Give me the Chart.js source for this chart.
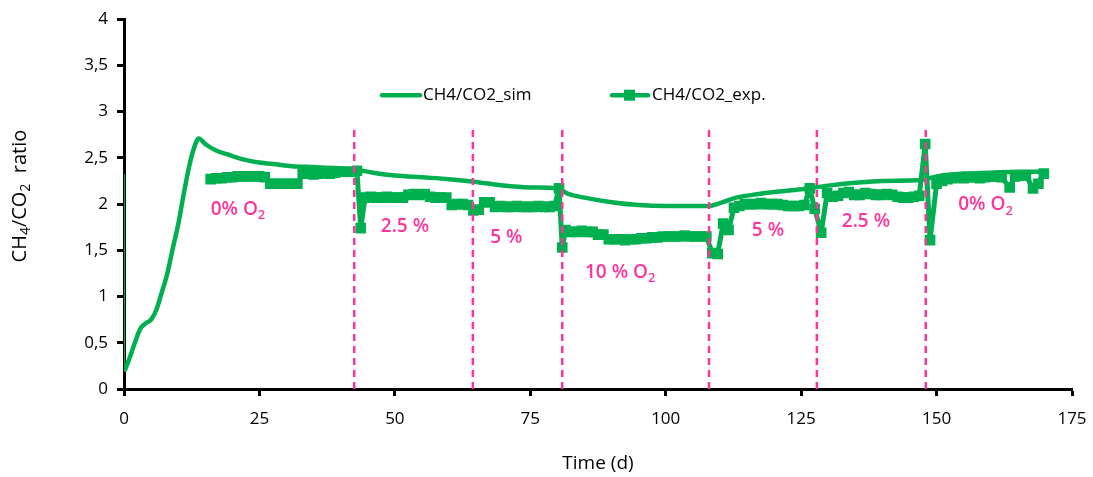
<!DOCTYPE html>
<html>
<head>
<meta charset="utf-8">
<script src="https://cdn.jsdelivr.net/npm/chart.js@4.4.1/dist/chart.umd.min.js"></script>
<style>
  html, body { margin: 0; padding: 0; background: #fff; }
  #wrap { width: 1093px; height: 477px; position: relative; }
</style>
</head>
<body>
<div id="wrap"><canvas id="chart" width="1093" height="477"></canvas></div>
<script>
// simulated CH4/CO2 ratio
const simDays = [0.2, 1, 2, 3, 4, 5, 6, 7, 8, 9, 10, 11, 12, 13, 13.8, 15, 17, 19, 21, 23, 25, 28, 31, 35, 39, 43, 46, 50, 55, 60, 65, 70, 75, 80, 82, 85, 90, 95, 100, 105, 108, 110, 113, 116, 120, 125, 130, 135, 140, 147, 150, 155, 160, 165, 170];
const simVals = [0.21, 0.33, 0.5, 0.65, 0.71, 0.75, 0.86, 1.05, 1.25, 1.52, 1.78, 2.1, 2.4, 2.62, 2.71, 2.65, 2.58, 2.54, 2.5, 2.47, 2.45, 2.43, 2.41, 2.4, 2.39, 2.37, 2.34, 2.31, 2.29, 2.27, 2.24, 2.2, 2.18, 2.17, 2.11, 2.07, 2.02, 1.99, 1.98, 1.98, 1.98, 2.01, 2.07, 2.1, 2.13, 2.16, 2.2, 2.23, 2.25, 2.26, 2.3, 2.33, 2.34, 2.35, 2.35];

// first sim value at t = 0
const simStartDays = [0, 0];
const simStartVals = [2.32, 0.21];

// experimental CH4/CO2 ratio
const expDays = [16, 17, 18, 19, 20, 21, 22, 23, 24, 25, 26, 27, 28, 29, 30, 31, 32, 33, 34, 35, 36, 37, 38, 39, 40, 41, 42, 43,
  43.7, 44.5, 45.5, 46.5, 47.5, 48.5, 49.5, 50.5, 51.5, 52.5, 53.5, 54.5, 55.5, 56.5, 57.5, 58.5, 59.5, 60.5, 61.5, 62.5, 63.5, 64.5, 65.5, 66.5, 67.5,
  68.5, 69.5, 70.5, 71.5, 72.5, 73.5, 74.5, 75.5, 76.5, 77.5, 78.5, 79.5, 80.3,
  80.9, 81.5, 82.5, 83.5, 84.5, 85.5, 86.5, 87.5, 88.5, 89.5, 90.5, 91.5, 92.5, 93.5, 94.5, 95.5, 96.5, 97.5, 98.5, 99.5, 100.5, 101.5, 102.5, 103.5, 104.5, 105.5, 106.5, 107.5,
  108.6, 109.6, 110.6, 111.6, 112.6, 113.6, 114.6, 115.6, 116.6, 117.6, 118.6, 119.6, 120.6, 121.6, 122.6, 123.6, 124.6, 125.6, 126.6,
  127.5, 128.7, 129.8, 130.8, 131.8, 132.8, 133.8, 134.8, 135.8, 136.8, 137.8, 138.8, 139.8, 140.8, 141.8, 142.8, 143.8, 144.8, 145.8, 146.8,
  147.9, 148.8, 150, 151, 152, 153, 154, 155, 156, 157, 158, 159, 160, 161, 162, 163.5, 164.5, 165.5, 166.5, 167.8, 168.8, 169.8];
const expVals = [2.27, 2.28, 2.28, 2.29, 2.29, 2.3, 2.3, 2.3, 2.3, 2.3, 2.29, 2.22, 2.22, 2.22, 2.22, 2.22, 2.22, 2.33, 2.33, 2.32, 2.33, 2.34, 2.33, 2.34, 2.35, 2.35, 2.35, 2.36,
  1.74, 2.07, 2.08, 2.07, 2.07, 2.08, 2.07, 2.07, 2.07, 2.1, 2.11, 2.1, 2.11, 2.08, 2.07, 2.07, 2.07, 1.99, 2.0, 2.0, 1.99, 1.93, 1.94, 2.02, 2.02,
  1.97, 1.98, 1.97, 1.97, 1.98, 1.97, 1.97, 1.97, 1.98, 1.97, 1.97, 1.98, 2.17,
  1.53, 1.72, 1.7, 1.7, 1.71, 1.7, 1.7, 1.67, 1.67, 1.62, 1.62, 1.62, 1.61, 1.62, 1.62, 1.63, 1.63, 1.64, 1.64, 1.65, 1.65, 1.65, 1.65, 1.66, 1.65, 1.65, 1.65, 1.65,
  1.47, 1.46, 1.79, 1.72, 1.96, 1.98, 2.0, 2.0, 2.0, 2.01, 2.0, 2.0, 2.0, 1.99, 1.98, 1.98, 1.98, 1.99, 2.17,
  1.95, 1.69, 2.12, 2.08, 2.09, 2.12, 2.13, 2.1, 2.1, 2.12, 2.11, 2.1, 2.1, 2.11, 2.1, 2.08, 2.07, 2.07, 2.08, 2.09,
  2.65, 1.61, 2.22, 2.25, 2.27, 2.28, 2.29, 2.28, 2.29, 2.29, 2.28, 2.29, 2.3, 2.3, 2.29, 2.18, 2.3, 2.31, 2.31, 2.17, 2.22, 2.33];

// O2 switch days (dashed markers) and their height
const switchDays = [42.5, 64.4, 80.9, 108, 127.9, 148];
const switchTop = 2.82;

// O2 level labels: text ("_2" = subscript 2), left day, centre value
const annLabels = ['0% O_2', '2.5 %', '5 %', '10 % O_2', '5 %', '2.5 %', '0% O_2'];
const annDays = [16, 47.4, 67.6, 85.1, 115.9, 132.5, 154];
const annVals = [1.94, 1.76, 1.64, 1.26, 1.71, 1.81, 1.99];

const xTicks = [0, 25, 50, 75, 100, 125, 150, 175];
const yTicks = [0, 0.5, 1, 1.5, 2, 2.5, 3, 3.5, 4];

const GREEN = '#00B050';
const PINK = '#FF3399';
const FONT = "'Open Sans', 'DejaVu Sans', sans-serif";

const toXY = (xs, ys) => xs.map((x, i) => ({ x: x, y: ys[i] }));

// draws "A_2 B" style text with subscripts, left aligned at x, middle at y
function drawSubText(ctx, text, x, y, size, weight) {
  const parts = text.split(/_(\d)/);
  let cx = x;
  parts.forEach((p, i) => {
    if (!p) return;
    const sub = i % 2 === 1;
    ctx.font = weight + ' ' + (sub ? Math.round(size * 0.68) : size) + 'px ' + FONT;
    ctx.fillText(p, cx, sub ? y + size * 0.32 : y);
    cx += ctx.measureText(p).width;
  });
  return cx - x;
}
function measureSubText(ctx, text, size, weight) {
  const parts = text.split(/_(\d)/);
  let w = 0;
  parts.forEach((p, i) => {
    if (!p) return;
    ctx.font = weight + ' ' + (i % 2 === 1 ? Math.round(size * 0.68) : size) + 'px ' + FONT;
    w += ctx.measureText(p).width;
  });
  return w;
}

const extras = {
  id: 'extras',
  afterDraw(chart) {
    const ctx = chart.ctx;
    const xs = chart.scales.x, ys = chart.scales.y;
    const area = chart.chartArea;
    ctx.save();
    ctx.textBaseline = 'middle';
    ctx.textAlign = 'left';

    // O2 level labels
    ctx.fillStyle = PINK;
    annLabels.forEach((t, i) => {
      drawSubText(ctx, t, xs.getPixelForValue(annDays[i]), ys.getPixelForValue(annVals[i]), 19, '600');
    });

    // y axis title with subscripts
    const title = 'CH_4/CO_2  ratio';
    ctx.fillStyle = '#000';
    const w = measureSubText(ctx, title, 20, 'normal');
    ctx.save();
    ctx.translate(20, (area.top + area.bottom) / 2 - 8);
    ctx.rotate(-Math.PI / 2);
    drawSubText(ctx, title, -w / 2, 0, 20, 'normal');
    ctx.restore();

    // legend
    const sim = chart.data.datasets.find(d => d.label === 'CH4/CO2_sim');
    const exp = chart.data.datasets.find(d => d.label === 'CH4/CO2_exp.');
    const ly = area.top + 76;
    ctx.font = '17px ' + FONT;
    ctx.lineCap = 'round';
    ctx.strokeStyle = sim.borderColor;
    ctx.lineWidth = 4.5;
    ctx.beginPath(); ctx.moveTo(382, ly); ctx.lineTo(420, ly); ctx.stroke();
    ctx.fillStyle = '#000';
    ctx.fillText(sim.label, 423, ly);
    ctx.strokeStyle = exp.borderColor;
    ctx.beginPath(); ctx.moveTo(612, ly); ctx.lineTo(648, ly); ctx.stroke();
    ctx.fillStyle = exp.borderColor;
    ctx.fillRect(624, ly - 5.5, 11, 11);
    ctx.fillStyle = '#000';
    ctx.fillText(exp.label, 652, ly);
    ctx.restore();
  }
};

const switchSets = switchDays.map(d => ({
  label: 'switch',
  data: [{ x: d, y: 0 }, { x: d, y: switchTop }],
  borderColor: PINK,
  borderWidth: 2.5,
  borderDash: [7, 5],
  pointRadius: 0,
  fill: false
}));

const chart = new Chart(document.getElementById('chart').getContext('2d'), {
  type: 'line',
  data: {
    datasets: [
      ...switchSets,
      {
        label: 'CH4/CO2_exp.',
        data: toXY(expDays, expVals),
        borderColor: GREEN,
        backgroundColor: GREEN,
        borderWidth: 5,
        borderJoinStyle: 'round',
        pointStyle: 'rect',
        pointRadius: 7.5,
        pointBorderWidth: 0,
        tension: 0,
        fill: false
      },
      {
        label: 'CH4/CO2_sim',
        data: toXY(simDays, simVals),
        borderColor: GREEN,
        borderWidth: 4.5,
        borderJoinStyle: 'round',
        pointRadius: 0,
        cubicInterpolationMode: 'monotone',
        borderCapStyle: 'round',
        fill: false
      },
      {
        label: 'sim start',
        data: toXY(simStartDays, simStartVals),
        borderColor: GREEN,
        borderWidth: 2,
        pointRadius: 0,
        fill: false
      }
    ]
  },
  options: {
    responsive: false,
    animation: false,
    layout: { padding: { top: 16, right: 21, left: 0, bottom: 0 } },
    plugins: {
      legend: { display: false },
      tooltip: { enabled: false }
    },
    scales: {
      x: {
        type: 'linear',
        min: 0,
        max: 175,
        afterFit: s => { s.height = 88; s.paddingLeft = 0; s.paddingRight = 0; },
        afterBuildTicks: s => { s.ticks = xTicks.map(v => ({ value: v })); },
        ticks: { color: '#000', font: { family: FONT, size: 17 }, padding: 13, maxRotation: 0 },
        grid: { display: true, drawOnChartArea: false, drawTicks: true, tickLength: 7, tickWidth: 3, tickColor: '#000', color: '#000' },
        border: { display: true, color: '#000', width: 3 },
        title: { display: true, text: 'Time (d)', color: '#000', font: { family: FONT, size: 19 }, padding: { top: 0, bottom: 2 } }
      },
      y: {
        type: 'linear',
        min: 0,
        max: 4,
        afterFit: s => { s.width = 124; },
        afterBuildTicks: s => { s.ticks = yTicks.map(v => ({ value: v })); },
        ticks: {
          color: '#000',
          font: { family: FONT, size: 17 },
          padding: 9,
          callback: v => String(v).replace('.', ',')
        },
        grid: { display: true, drawOnChartArea: false, drawTicks: true, tickLength: 7, tickWidth: 3, tickColor: '#000', color: '#000' },
        border: { display: true, color: '#000', width: 3 },
        title: { display: false }
      }
    }
  },
  plugins: [extras]
});
</script>
</body>
</html>
